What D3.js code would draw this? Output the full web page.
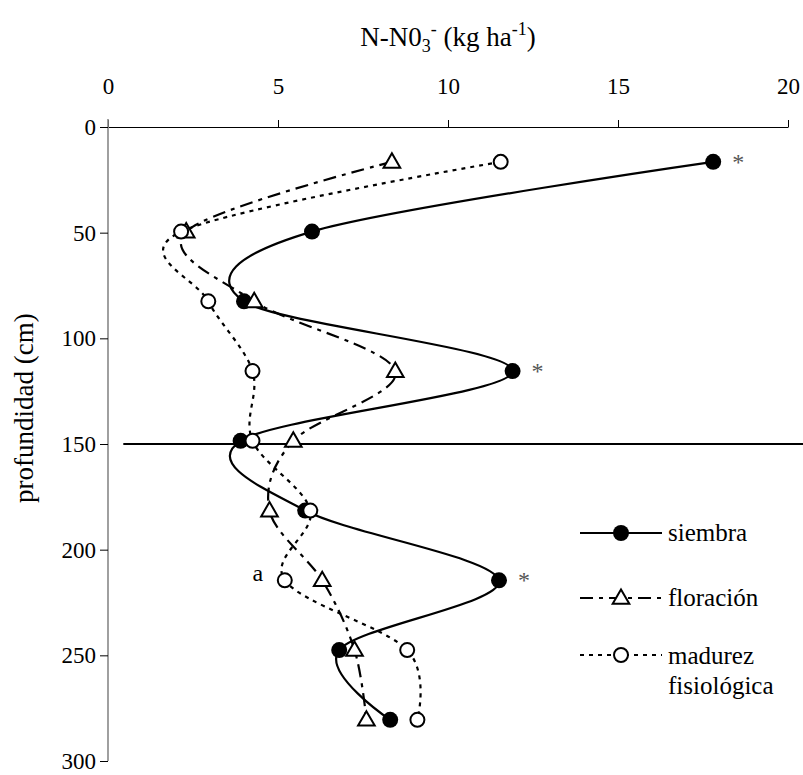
<!DOCTYPE html>
<html>
<head>
<meta charset="utf-8">
<script src="https://cdn.jsdelivr.net/npm/d3@7"></script>
<style>
  body { margin: 0; background: #fff; }
</style>
</head>
<body>
<svg id="chart" width="803" height="775"></svg>
<script>
// soil depth of each sample (cm) and N-NO3 per sampling time
const depth = [16.5, 49.5, 82.5, 115.5, 148.5, 181.5, 214.5, 247.5, 280.5];
const siembra = [17.8, 6.0, 4.0, 11.9, 3.9, 5.8, 11.5, 6.8, 8.3];
const floracion = [8.35, 2.3, 4.3, 8.45, 5.45, 4.75, 6.3, 7.25, 7.6];
const madurez = [11.55, 2.15, 2.95, 4.25, 4.25, 5.95, 5.2, 8.8, 9.1];

const xTicks = [0, 5, 10, 15, 20];
const yTicks = [0, 50, 100, 150, 200, 250, 300];
const refDepth = 150;
const starIdx = [0, 3, 6];   // siembra points marked with *
const letterIdx = 6;         // madurez point marked with "a"

const FONT = "'Liberation Serif', 'Times New Roman', serif";
const fs = 23;

const svg = d3.select("#chart").attr("font-family", FONT);

const x = d3.scaleLinear().domain([0, 20]).range([108, 788]);
const y = d3.scaleLinear().domain([0, 300]).range([127, 761]);

// x axis on top
const xAxis = svg.append("g")
  .attr("transform", `translate(0,${y(0)})`)
  .call(d3.axisTop(x).tickValues(xTicks).tickSize(7).tickPadding(26).tickSizeOuter(0));
xAxis.attr("font-family", FONT).attr("font-size", fs);
xAxis.select(".domain").attr("stroke", "#000").attr("stroke-width", 1.2);
xAxis.selectAll(".tick line").attr("stroke", "#000");
xAxis.selectAll("text").attr("fill", "#000");

// y axis, grey line
const yAxis = svg.append("g")
  .attr("transform", `translate(${x(0)},0)`)
  .call(d3.axisLeft(y).tickValues(yTicks).tickSize(8).tickPadding(4).tickSizeOuter(0));
yAxis.attr("font-family", FONT).attr("font-size", fs);
yAxis.select(".domain").attr("stroke", "#888").attr("stroke-width", 1.6)
  .attr("d", `M0,${y(0) - 8}V${y(300)}`);
yAxis.selectAll(".tick line").attr("stroke", "#000");
yAxis.selectAll("text").attr("fill", "#000");

// title
const title = svg.append("text")
  .attr("x", x(10)).attr("y", 46)
  .attr("text-anchor", "middle").attr("font-size", 27);
title.append("tspan").text("N-N0");
title.append("tspan").text("3").attr("font-size", 18).attr("dy", 6);
title.append("tspan").text("-").attr("font-size", 18).attr("dy", -17);
title.append("tspan").text(" (kg ha").attr("font-size", 27).attr("dy", 11);
title.append("tspan").text("-1").attr("font-size", 18).attr("dy", -11);
title.append("tspan").text(")").attr("font-size", 27).attr("dy", 11);

svg.append("text")
  .attr("transform", `translate(33,${y(133)}) rotate(-90)`)
  .attr("text-anchor", "middle").attr("font-size", 27)
  .text("profundidad (cm)");

// reference line at 150 cm
svg.append("line")
  .attr("x1", x(0.45)).attr("x2", x(20.5))
  .attr("y1", y(refDepth)).attr("y2", y(refDepth))
  .attr("stroke", "#000").attr("stroke-width", 2);

const line = d3.line().curve(d3.curveCatmullRom.alpha(0))
  .x(d => x(d[0])).y(d => y(d[1]));

const series = [
  { name: "siembra", vals: siembra, dash: null, mark: "dot" },
  { name: "floración", vals: floracion, dash: "13,6,4,6", mark: "tri" },
  { name: "madurez", vals: madurez, dash: "4,5", mark: "ring" }
];

const tri = d3.symbol(d3.symbolTriangle, 120);

function drawMark(g, kind, cx, cy) {
  if (kind === "dot") {
    g.append("circle").attr("cx", cx).attr("cy", cy).attr("r", 8).attr("fill", "#000");
  } else if (kind === "ring") {
    g.append("circle").attr("cx", cx).attr("cy", cy).attr("r", 7)
      .attr("fill", "#fff").attr("stroke", "#000").attr("stroke-width", 2);
  } else {
    g.append("path").attr("d", tri()).attr("transform", `translate(${cx},${cy + 1})`)
      .attr("fill", "#fff").attr("stroke", "#000").attr("stroke-width", 2);
  }
}

series.forEach(s => {
  const pts = s.vals.map((v, i) => [v, depth[i]]);
  const g = svg.append("g");
  g.append("path").attr("d", line(pts))
    .attr("fill", "none").attr("stroke", "#000").attr("stroke-width", 2.2)
    .attr("stroke-dasharray", s.dash);
  pts.forEach(p => drawMark(g, s.mark, x(p[0]), y(p[1])));
});

// significance marks
starIdx.forEach(i => {
  svg.append("text").attr("x", x(siembra[i]) + 25).attr("y", y(depth[i]) + 8)
    .attr("font-size", 24).attr("fill", "#555").attr("text-anchor", "middle").text("*");
});
svg.append("text").attr("x", x(madurez[letterIdx]) - 27).attr("y", y(depth[letterIdx]) + 1)
  .attr("font-size", 24).attr("text-anchor", "middle").text("a");

// legend
const leg = svg.append("g").attr("font-size", 25);
const legY = [533, 598, 655];
series.forEach((s, i) => {
  leg.append("line").attr("x1", 580).attr("x2", 662)
    .attr("y1", legY[i]).attr("y2", legY[i])
    .attr("stroke", "#000").attr("stroke-width", 2.2)
    .attr("stroke-dasharray", s.dash);
  drawMark(leg, s.mark, 621, legY[i]);
});
leg.append("text").attr("x", 668).attr("y", legY[0] + 8).text("siembra");
leg.append("text").attr("x", 668).attr("y", legY[1] + 8).text("floración");
leg.append("text").attr("x", 668).attr("y", legY[2] + 9).text("madurez");
leg.append("text").attr("x", 668).attr("y", legY[2] + 39).text("fisiológica");
</script>
</body>
</html>
